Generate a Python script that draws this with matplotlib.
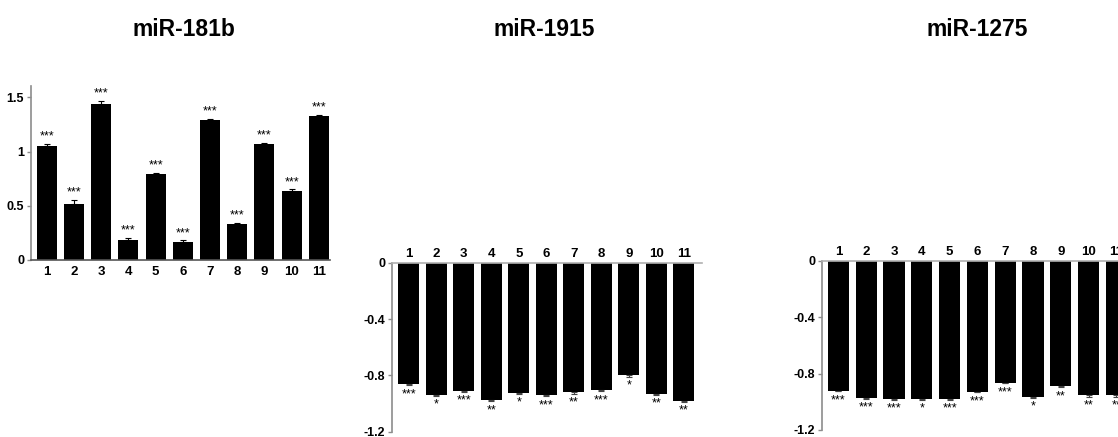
import numpy as np
import matplotlib.pyplot as plt

plt.rcParams['font.family'] = ['Liberation Sans', 'DejaVu Sans']
plt.rcParams['font.weight'] = 'bold'

####################
# data
####################
groups = [str(i) for i in range(1, 12)]

titles = ['miR-181b', 'miR-1915', 'miR-1275']

vals_181b = [1.05, 0.52, 1.44, 0.18, 0.79, 0.17, 1.29, 0.33, 1.07, 0.64, 1.33]
err_181b = [0.02, 0.03, 0.03, 0.02, 0.01, 0.01, 0.01, 0.01, 0.01, 0.01, 0.01]
stars_181b = ['***'] * 11

vals_1915 = [-0.86, -0.94, -0.91, -0.975, -0.928, -0.94, -0.92, -0.904, -0.80, -0.933, -0.982]
err_1915 = [0.01, 0.005, 0.005, 0.01, 0.005, 0.01, 0.01, 0.01, 0.01, 0.005, 0.005]
stars_1915 = ['***', '*', '***', '**', '*', '***', '**', '***', '*', '**', '**']

vals_1275 = [-0.922, -0.976, -0.983, -0.983, -0.983, -0.929, -0.865, -0.965, -0.887, -0.953, -0.953]
err_1275 = [0.005, 0.005, 0.005, 0.005, 0.005, 0.005, 0.005, 0.005, 0.01, 0.01, 0.01]
stars_1275 = ['***', '***', '***', '*', '***', '***', '***', '*', '**', '**', '**']

####################
W, H = 1118, 437
fig = plt.figure(figsize=(W / 100, H / 100), dpi=100)


def axes_px(left, top, right, bottom):
    # pixel box -> figure fraction
    return fig.add_axes([left / W, 1 - bottom / H, (right - left) / W, (bottom - top) / H])


x = np.arange(1, 12)
axis_col = '#8c8c8c'


def style(ax):
    for s in ['top', 'right', 'bottom', 'left']:
        ax.spines[s].set_visible(False)
    ax.spines['left'].set_visible(True)
    ax.spines['left'].set_color(axis_col)
    ax.spines['left'].set_linewidth(1.2)
    ax.tick_params(axis='y', length=3, width=1, color=axis_col, labelsize=9, pad=2)
    ax.tick_params(axis='x', length=0, labelsize=9.5)
    ax.set_xticks(x)
    ax.set_xticklabels(groups)
    for lab in ax.get_xticklabels() + ax.get_yticklabels():
        lab.set_fontweight('bold')


# ---------- panel 1 : positive bars ----------
ax1 = axes_px(31, 86.4, 329.7, 260)
n = len(vals_181b)
ax1.bar(x, vals_181b, width=0.74, color='black',
        yerr=[[0] * n, err_181b], capsize=2,
        error_kw=dict(elinewidth=0.8, ecolor='black', capthick=0.8))
ax1.set_xlim(0.42, 11.4)
ax1.set_ylim(0, 1.6)
ax1.set_yticks([0, 0.5, 1, 1.5])
ax1.set_yticklabels(['0', '0.5', '1', '1.5'])
style(ax1)
ax1.spines['bottom'].set_visible(True)
ax1.spines['bottom'].set_color('#555555')
ax1.spines['bottom'].set_linewidth(1.2)
ax1.tick_params(axis='x', pad=4)
for xi, v, e, s in zip(x, vals_181b, err_181b, stars_181b):
    ax1.annotate(s, (xi, v + e), xytext=(0, 1), textcoords='offset points',
                 ha='center', va='bottom', fontsize=9, fontweight='normal')


# ---------- panels 2 and 3 : negative bars ----------
def neg_panel(box, xlim, vals, errs, stars):
    ax = axes_px(*box)
    n = len(vals)
    ax.bar(x, vals, width=0.76, color='black',
           yerr=[errs, [0] * n], capsize=2,
           error_kw=dict(elinewidth=0.8, ecolor='#444444', capthick=0.8))
    ax.set_xlim(*xlim)
    ax.set_ylim(-1.2, 0)
    ax.set_yticks([0, -0.4, -0.8, -1.2])
    ax.set_yticklabels(['0', '-0.4', '-0.8', '-1.2'])
    ax.xaxis.tick_top()
    style(ax)
    ax.spines['top'].set_visible(True)
    ax.spines['top'].set_color('#b0b0b0')
    ax.spines['top'].set_linewidth(1.2)
    ax.tick_params(axis='x', pad=2, top=False)
    for xi, v, e, s in zip(x, vals, errs, stars):
        ax.annotate(s, (xi, v - e), xytext=(0, -2), textcoords='offset points',
                    ha='center', va='top', fontsize=9, fontweight='normal')
    return ax


ax2 = neg_panel((392.3, 262.7, 701.7, 431.7), (0.4, 11.65), vals_1915, err_1915, stars_1915)
ax3 = neg_panel((822.3, 260.7, 1134.5, 430), (0.42, 11.65), vals_1275, err_1275, stars_1275)

# panel titles
for xc, t in zip([183.5, 544, 977.5], titles):
    fig.text(xc / W, 1 - 29 / H, t, ha='center', va='center', fontsize=16.5, fontweight='bold')

fig.savefig('out.png', dpi=100)
